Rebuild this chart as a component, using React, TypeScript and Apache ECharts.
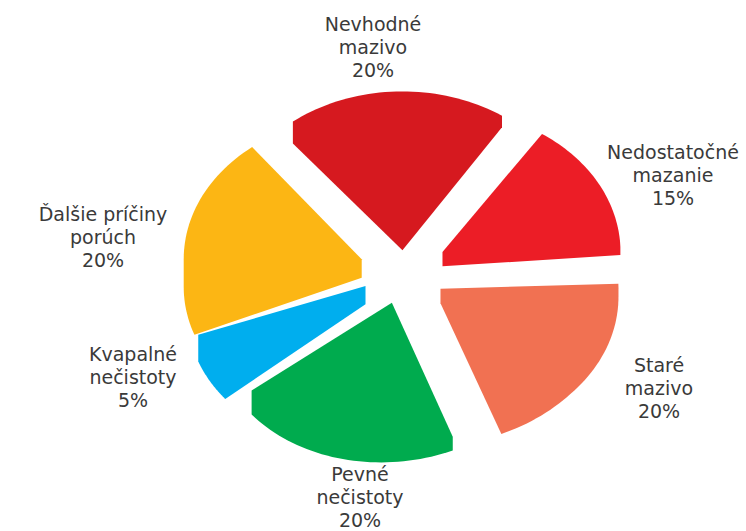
import React, { useEffect, useRef } from 'react';
import * as echarts from 'echarts';

// ---- data ----
const categories = [
  'Nevhodné\nmazivo',
  'Nedostatočné\nmazanie',
  'Staré\nmazivo',
  'Pevné\nnečistoty',
  'Kvapalné\nnečistoty',
  'Ďalšie príčiny\nporúch',
];
const shares = [20, 15, 20, 20, 5, 20];

// ---- styling / layout (not data) ----
const colors = ['#D6191F', '#EC1D26', '#F17152', '#00AB4E', '#00AEEE', '#FCB614'];
const labelPos: number[][] = [
  [373, 47],
  [673, 175],
  [659, 388],
  [360, 497],
  [133, 377],
  [103, 237],
];
const CX = 404;
const CY = 269;
const R = 178;
const K = 0.8; // vertical squash (tilt)
const EXPLODE = 44;
const START_ANGLE = 128;

function thickness(x: number) {
  return Math.max(8, 22 - 0.05 * (x - 290));
}

function hull(pts: number[][]) {
  const p = pts.slice().sort((a, b) => (a[0] - b[0]) || (a[1] - b[1]));
  const cross = (o: number[], a: number[], b: number[]) =>
    (a[0] - o[0]) * (b[1] - o[1]) - (a[1] - o[1]) * (b[0] - o[0]);
  const lower: number[][] = [];
  for (const q of p) {
    while (lower.length >= 2 && cross(lower[lower.length - 2], lower[lower.length - 1], q) <= 0) lower.pop();
    lower.push(q);
  }
  const upper: number[][] = [];
  for (let i = p.length - 1; i >= 0; i--) {
    const q = p[i];
    while (upper.length >= 2 && cross(upper[upper.length - 2], upper[upper.length - 1], q) <= 0) upper.pop();
    upper.push(q);
  }
  upper.pop();
  lower.pop();
  return lower.concat(upper);
}

export default function App() {
  const ref = useRef<HTMLDivElement>(null);
  useEffect(() => {
    document.body.style.margin = '0';
    if (!ref.current) return;
    const chart = echarts.init(ref.current, undefined, { renderer: 'svg' });
    const total = shares.reduce((a, b) => a + b, 0);
    const starts: number[] = [];
    let acc = START_ANGLE;
    for (const v of shares) {
      starts.push(acc);
      acc -= (v / total) * 360;
    }
    const option = {
      animation: false,
      backgroundColor: '#ffffff',
      series: [
        {
          type: 'custom',
          coordinateSystem: 'none',
          data: shares.map((v, i) => ({ value: [v, i], name: categories[i] })),
          renderItem: (params: any, api: any) => {
            const i = params.dataIndex;
            const v = api.value(0) as number;
            const a0 = starts[i];
            const a1 = a0 - (v / total) * 360;
            const mid = ((a0 + a1) / 2) * Math.PI / 180;
            const ax = CX + EXPLODE * Math.cos(mid);
            const ay = CY - EXPLODE * K * Math.sin(mid);
            const top: number[][] = [[ax, ay]];
            const steps = 40;
            for (let s = 0; s <= steps; s++) {
              const t = (a0 + (a1 - a0) * (s / steps)) * Math.PI / 180;
              top.push([ax + R * Math.cos(t), ay - R * K * Math.sin(t)]);
            }
            const bottom = top.map((p) => [p[0], p[1] + thickness(p[0])]);
            const pts = hull(top.concat(bottom));
            return {
              type: 'group',
              children: [
                {
                  type: 'polygon',
                  shape: { points: pts },
                  style: { fill: colors[i], stroke: null },
                },
                {
                  type: 'text',
                  style: {
                    text: categories[i] + '\n' + v + '%',
                    x: labelPos[i][0],
                    y: labelPos[i][1],
                    align: 'center',
                    verticalAlign: 'middle',
                    fontSize: 19,
                    lineHeight: 23,
                    fontFamily: 'DejaVu Sans',
                    fill: '#3a3a3a',
                  },
                },
              ],
            };
          },
        },
      ],
    };
    chart.setOption(option as any);
    return () => chart.dispose();
  }, []);
  return <div ref={ref} style={{ width: 746, height: 531 }} />;
}
